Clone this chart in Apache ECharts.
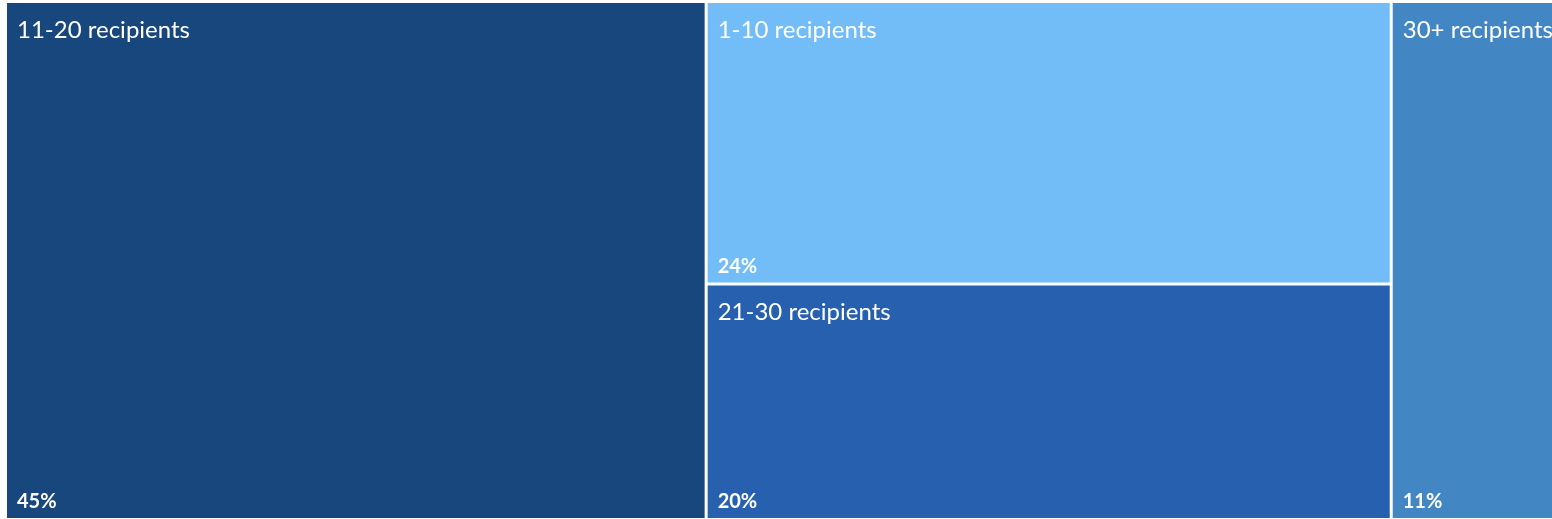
<!DOCTYPE html>
<html>
<head>
<meta charset="utf-8">
<script src="https://cdn.jsdelivr.net/npm/echarts@6/dist/echarts.min.js"></script>
<style>
  html, body { margin: 0; padding: 0; background: #fff; }
  #chart { width: 1552px; height: 519px; }
</style>
</head>
<body>
<div id="chart"></div>
<script>
// data
var categories = ['11-20 recipients', '1-10 recipients', '21-30 recipients', '30+ recipients'];
var shares = [45, 24, 20, 11];

var palette = ['#18477e', '#72bdf7', '#2660ae', '#4386c4'];

var chart = echarts.init(document.getElementById('chart'));

function buildData(withColor) {
  return categories.map(function (name, i) {
    return {
      name: name,
      value: shares[i],
      itemStyle: { color: withColor ? palette[i] : 'rgba(0,0,0,0)' }
    };
  });
}

function baseSeries() {
  return {
    type: 'treemap',
    left: 7,
    top: 3,
    width: 1554,
    height: 515,
    roam: false,
    nodeClick: false,
    breadcrumb: { show: false },
    levels: [
      { itemStyle: { borderWidth: 0, gapWidth: 3, borderColor: '#fff' } }
    ]
  };
}

// names in the top left corner
var names = baseSeries();
names.data = buildData(true);
names.label = {
  show: true,
  position: 'insideTopLeft',
  formatter: '{b}',
  color: '#fff',
  fontFamily: 'Lato',
  fontSize: 24,
  padding: [15, 0, 0, 10]
};

// percentages in the bottom left corner, same layout, no fill
var pcts = baseSeries();
pcts.silent = true;
pcts.data = buildData(false);
pcts.label = {
  show: true,
  position: 'insideBottomLeft',
  formatter: '{c}%',
  color: '#fff',
  fontFamily: 'Lato',
  fontWeight: 'bold',
  fontSize: 20,
  padding: [0, 0, 6, 10]
};

chart.setOption({
  animation: false,
  series: [names, pcts]
});
</script>
</body>
</html>
